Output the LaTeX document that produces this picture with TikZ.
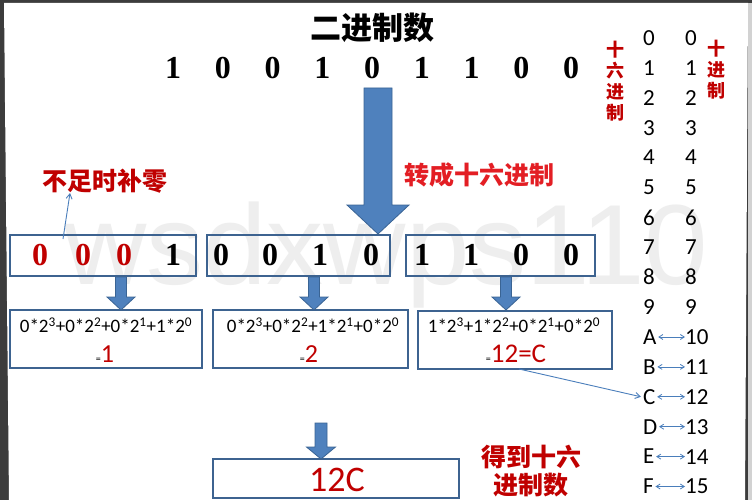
\documentclass[tikz,border=0pt]{standalone}
\usepackage{fontspec}
\setmainfont{Liberation Serif}
\newfontfamily\cjk{Noto Sans CJK SC}
\newfontfamily\calfont{Carlito}
\newfontfamily\wmfont{Liberation Sans}
\usetikzlibrary{arrows.meta}
\definecolor{bfill}{HTML}{4F81BD}
\definecolor{bdraw}{HTML}{3A6494}
\definecolor{boxline}{HTML}{3D6390}
\definecolor{dred}{HTML}{C00000}
\definecolor{bred}{HTML}{E31E24}
\definecolor{thinblue}{HTML}{4A7EBB}
\definecolor{framegray}{HTML}{3C3C3C}
\newcommand\fs[1]{\fontsize{#1}{#1}\selectfont}
\newcommand\blockdown[6]{%
  \filldraw[fill=bfill, draw=bdraw, line width=0.8] (#1-#4,#2) -- (#1+#4,#2) -- (#1+#4,#3-#6) -- (#1+#5,#3-#6) -- (#1,#3) -- (#1-#5,#3-#6) -- (#1-#4,#3-#6) -- cycle;}
\tikzset{
  box/.style={draw=boxline, line width=2, inner sep=0pt},
  bindig/.style={font=\bfseries\fs{32}, inner sep=0pt},
  formula/.style={font=\calfont\fs{19}, inner sep=0pt},
  res/.style={font=\calfont, inner sep=0pt},
  cjkred/.style={font=\cjk\bfseries\fs{25}, text=dred, inner sep=0pt},
  vlab/.style={font=\cjk\bfseries\fs{18}, text=dred, inner sep=0pt},
  tab/.style={font=\calfont\fs{23}, inner sep=0pt, anchor=west},
  thinarrow/.style={draw=thinblue, line width=0.9, -{Straight Barb[length=5pt,width=6pt]}},
  dblarrow/.style={draw=thinblue, line width=0.8, {Straight Barb[length=4pt,width=5pt]}-{Straight Barb[length=4pt,width=5pt]}},
}
\begin{document}
\begin{tikzpicture}[x=1pt,y=-1pt]
\useasboundingbox (0,0) rectangle (752,500);
% frame
\fill[framegray] (0,0) rectangle (752,500);
\fill[white] (4,3) -- (748,3) -- (745,500) -- (9,500) -- cycle;
\fill[gray!35] (748,3) rectangle (752,500);
% watermark
\node[anchor=base west, font=\wmfont\fs{114}, text=gray!13, inner sep=0pt] (wm) at (64,284) {wsdxwps110};
% title
\node[font=\cjk\bfseries\fs{31}, inner sep=0pt] (title) at (372,28) {二进制数};
% binary digits
\foreach \d [count=\i from 0] in {1,0,0,1,0,1,1,0,0}
  \node[bindig] (t\i) at (173+49.75*\i,68) {\d};
% big arrow
\blockdown{378}{88}{234}{14}{31}{29}
\node[cjkred, text=bred] (conv) at (479,175) {转成十六进制};
% boxes row 1
\node[box, minimum width=186pt, minimum height=41pt] (b1) at (103,255.5) {};
\node[box, minimum width=183pt, minimum height=41pt] (b2) at (298.5,255.5) {};
\node[box, minimum width=189pt, minimum height=41pt] (b3) at (500.5,255.5) {};
\node[bindig, text=dred] (z1) at (40,255) {0};
\node[bindig, text=dred] (z2) at (83,255) {0};
\node[bindig, text=dred] (z3) at (124,255) {0};
\node[bindig] (z4) at (173,255) {1};
\node[bindig] (y1) at (221,255) {0};
\node[bindig] (y2) at (270,255) {0};
\node[bindig] (y3) at (320,255) {1};
\node[bindig] (y4) at (371,255) {0};
\node[bindig] (x1) at (422,255) {1};
\node[bindig] (x2) at (471,255) {1};
\node[bindig] (x3) at (521,255) {0};
\node[bindig] (x4) at (571,255) {0};
% pad note
\node[cjkred] (pad) at (105,181) {不足时补零};
\coordinate (padstart) at (63,239);
\draw[thinarrow] (padstart) -- (70,193);
% small arrows
\blockdown{121}{277}{310}{5.5}{14}{13}
\blockdown{314}{277}{310}{5.5}{14}{13}
\blockdown{506}{277}{310}{5.5}{14}{13}
% boxes row 2
\node[box, minimum width=192pt, minimum height=58pt] (f1) at (106,339) {};
\node[box, minimum width=195pt, minimum height=58pt] (f2) at (310.5,339) {};
\node[box, minimum width=194pt, minimum height=58pt] (f3) at (515,339.5) {};
\node[formula] (p1) at (106,325) {0*2\textsuperscript{3}+0*2\textsuperscript{2}+0*2\textsuperscript{1}+1*2\textsuperscript{0}};
\node[formula] (p2) at (313,325) {0*2\textsuperscript{3}+0*2\textsuperscript{2}+1*2\textsuperscript{1}+0*2\textsuperscript{0}};
\node[formula] (p3) at (514,325) {1*2\textsuperscript{3}+1*2\textsuperscript{2}+0*2\textsuperscript{1}+0*2\textsuperscript{0}};
\node[res, anchor=base] (q1) at (105,362) {\fs{10}=\fs{26}\textcolor{dred}{1}};
\node[res, anchor=base] (q2) at (309,362) {\fs{10}=\fs{26}\textcolor{dred}{2}};
\node[res, anchor=base] (q3) at (516,362) {\fs{10}=\fs{27}\textcolor{dred}{12=C}};
% bottom
\blockdown{321}{423}{459}{6}{14.5}{12}
\node[box, minimum width=246pt, minimum height=39pt] (r) at (336,478.5) {};
\node[res, font=\calfont\fs{36}, text=dred] (rt) at (337,480) {12C};
\node[cjkred, align=center] (got) at (531,471) {得到十六\\[3pt]进制数};
% table
\node[vlab, align=center] (hexlab) at (615,81) {十\\[3pt]六\\[3pt]进\\[3pt]制};
\node[vlab, align=center] (declab) at (716,70) {十\\[3pt]进\\[3pt]制};
\foreach \h [count=\i from 0] in {0,1,2,3,4,5,6,7,8,9,A,B,C,D,E,F} {
  \node[tab] (h\i) at (643,38+29.9*\i) {\h};
  \node[tab] (d\i) at (685,38+29.9*\i) {\i};
}
\foreach \i in {10,...,15}
  \draw[dblarrow] ([xshift=1.5pt]h\i.east) -- (d\i.west);
\coordinate (f3out) at (519,369);
\draw[thinarrow] (f3out) -- ([xshift=-2pt]h12.west);
\end{tikzpicture}
\end{document}
